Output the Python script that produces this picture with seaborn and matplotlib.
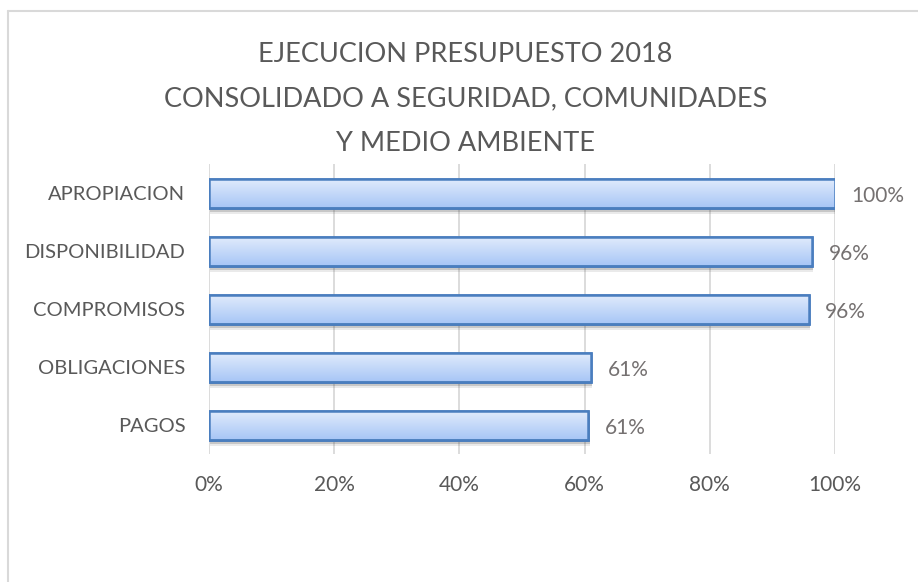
import numpy as np
import pandas as pd
import seaborn as sns
import matplotlib.pyplot as plt
from matplotlib.ticker import PercentFormatter
from matplotlib.patches import Rectangle
from matplotlib.lines import Line2D
import matplotlib.transforms as mtransforms
from matplotlib.colors import LinearSegmentedColormap

categories = ["APROPIACION", "DISPONIBILIDAD", "COMPROMISOS", "OBLIGACIONES", "PAGOS"]
ejecucion = [1.00, 0.963, 0.958, 0.610, 0.606]
etiquetas = ["100%", "96%", "96%", "61%", "61%"]
titulo = "EJECUCION PRESUPUESTO 2018\nCONSOLIDADO A SEGURIDAD, COMUNIDADES\nY MEDIO AMBIENTE"

df = pd.DataFrame({"categoria": categories, "valor": ejecucion})

sns.set_style("white")
plt.rcParams["font.family"] = ["Lato", "DejaVu Sans"]

fig = plt.figure(figsize=(9.18, 5.82), dpi=100)
ax = fig.add_axes([209 / 918, 1 - 454 / 582, (835 - 209) / 918, 290 / 582])

sns.barplot(data=df, x="valor", y="categoria", orient="h", width=0.5,
            color="#c5d9f9", edgecolor="#4a7ebf", linewidth=1.8, ax=ax, zorder=3)

grad = LinearSegmentedColormap.from_list("g", ["#e2ecfc", "#a9c7f6"])
for bar in ax.patches:
    x0, y0 = bar.get_x(), bar.get_y()
    w, h = bar.get_width(), bar.get_height()
    # shadow below the bar
    for i, a in enumerate([0.30, 0.20, 0.11]):
        off = mtransforms.offset_copy(ax.transData, fig=fig, x=1.0, y=-(1.8 + i * 1.3), units="points")
        ax.add_patch(Rectangle((x0, y0), w, h, transform=off, facecolor="#404040",
                               edgecolor="none", alpha=a, zorder=2))
    img = ax.imshow(np.linspace(0, 1, 64).reshape(-1, 1), cmap=grad, aspect="auto",
                    extent=(x0, x0 + w, y0 + h, y0), zorder=3.5, interpolation="bicubic")
    img.set_clip_path(bar)
    ax.add_patch(Rectangle((x0, y0), w, h, facecolor="none", edgecolor="#4a7ebf",
                           linewidth=1.8, zorder=4))

for i, (v, lab) in enumerate(zip(ejecucion, etiquetas)):
    ax.annotate(lab, (v, i), xytext=(12, -2), textcoords="offset points",
                ha="left", va="center", fontsize=15, color="#757171")

ax.set_xlim(0, 1)
ax.set_ylim(4.5, -0.5)
ax.set_xticks(np.arange(0, 1.01, 0.2))
ax.xaxis.set_major_formatter(PercentFormatter(1.0, decimals=0))
ax.grid(axis="x", color="#d9d9d9", linewidth=1.3, zorder=0)
ax.set_axisbelow(True)
for s in ax.spines.values():
    s.set_visible(False)
ax.tick_params(axis="both", length=0, labelcolor="#595959")
ax.tick_params(axis="x", pad=15, labelsize=15)
ax.tick_params(axis="y", pad=17, labelsize=14.5)
ax.set_xlabel("")
ax.set_ylabel("")

fig.text(0.507, 1 - 99 / 582, titulo, ha="center", va="center", fontsize=19.5,
         color="#595959", linespacing=1.97)

# chart frame (top and left edges visible)
fig.add_artist(Line2D([8 / 918, 1], [1 - 11 / 582, 1 - 11 / 582], color="#d9d9d9", lw=1.5))
fig.add_artist(Line2D([8 / 918, 8 / 918], [0, 1 - 11 / 582], color="#d9d9d9", lw=1.5))

fig.savefig("out.png", dpi=100)
